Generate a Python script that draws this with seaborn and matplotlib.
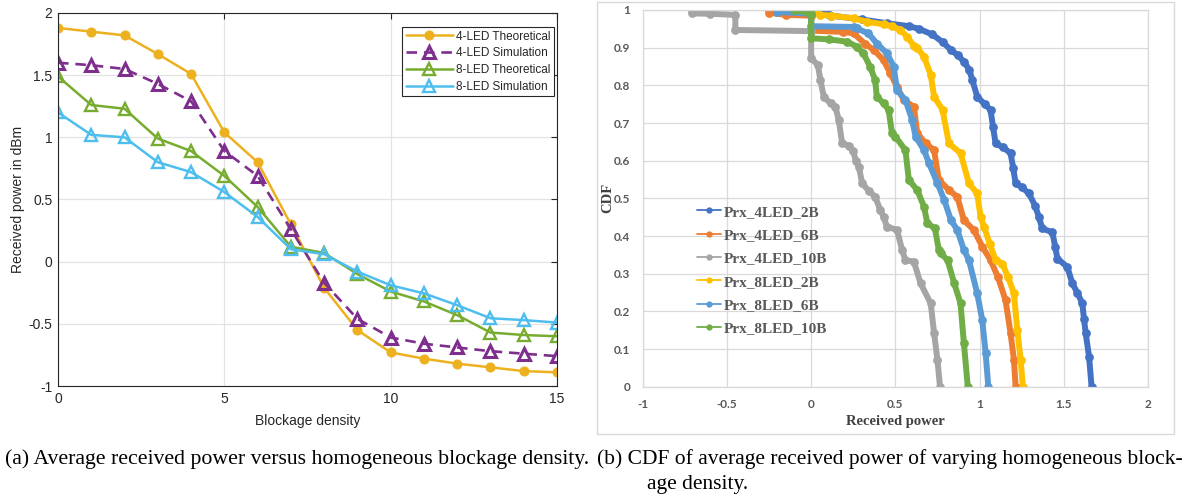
import numpy as np
import pandas as pd
import matplotlib
matplotlib.use("Agg")
import matplotlib.pyplot as plt
from matplotlib.lines import Line2D
from matplotlib.patches import Rectangle
import seaborn as sns

# ---------------- data: (a) received power vs blockage density ----------------
density = [0, 1, 2, 3, 4, 5, 6, 7, 8, 9, 10, 11, 12, 13, 14, 15]
led4_theory = [1.88, 1.85, 1.82, 1.67, 1.51, 1.04, 0.80, 0.30, -0.21, -0.55, -0.73, -0.78, -0.82, -0.85, -0.88, -0.89]
led4_sim = [1.60, 1.58, 1.55, 1.43, 1.29, 0.89, 0.69, 0.26, -0.17, -0.46, -0.61, -0.66, -0.69, -0.72, -0.74, -0.76]
led8_theory = [1.49, 1.26, 1.23, 0.99, 0.89, 0.69, 0.44, 0.12, 0.07, -0.10, -0.24, -0.32, -0.43, -0.57, -0.59, -0.60]
led8_sim = [1.20, 1.02, 1.00, 0.80, 0.72, 0.56, 0.36, 0.10, 0.06, -0.08, -0.19, -0.255, -0.35, -0.455, -0.47, -0.49]
series_a_labels = ["4-LED Theoretical", "4-LED Simulation", "8-LED Theoretical", "8-LED Simulation"]

# ---------------- data: (b) CDF curves (received power, CDF) ----------------
p4_2b = [-0.2, -0.2, 0.1, 0.12, 0.3, 0.45, 0.58, 0.64, 0.72, 0.78, 0.83, 0.87, 0.907, 0.94, 0.957, 0.986, 1.03, 1.065,
         1.08, 1.095, 1.14, 1.184, 1.2, 1.214, 1.25, 1.293, 1.33, 1.352, 1.372, 1.432, 1.45, 1.462, 1.521, 1.551, 1.58,
         1.61, 1.62, 1.63, 1.65, 1.665]
c4_2b = [1.0, 0.995, 0.99, 0.985, 0.975, 0.965, 0.957, 0.95, 0.935, 0.915, 0.894, 0.88, 0.863, 0.84, 0.814, 0.77, 0.75, 0.735,
         0.69, 0.646, 0.635, 0.62, 0.58, 0.54, 0.53, 0.513, 0.48, 0.451, 0.42, 0.41, 0.37, 0.34, 0.318, 0.274, 0.25,
         0.221, 0.18, 0.142, 0.08, 0.0]

p4_6b = [-0.25, -0.25, -0.15, 0.0, 0.0, 0.19, 0.253, 0.32, 0.372, 0.43, 0.47, 0.51, 0.55, 0.61, 0.63, 0.68, 0.73, 0.758,
         0.818, 0.868, 0.907, 0.966, 1.016, 1.065, 1.11, 1.154, 1.184, 1.204, 1.214]
c4_6b = [1.0, 0.993, 0.987, 0.985, 0.945, 0.942, 0.938, 0.91, 0.894, 0.867, 0.832, 0.796, 0.761, 0.743, 0.673, 0.646, 0.628, 0.549,
         0.522, 0.504, 0.442, 0.416, 0.372, 0.336, 0.29, 0.23, 0.142, 0.071, 0.0]

p4_10b = [-0.707, -0.707, -0.6, -0.45, -0.45, 0.0, 0.0, 0.04, 0.055, 0.075, 0.115, 0.144, 0.164, 0.184, 0.223, 0.25,
          0.265, 0.283, 0.303, 0.342, 0.38, 0.41, 0.43, 0.45, 0.51, 0.54, 0.56, 0.61, 0.65, 0.71, 0.73, 0.75, 0.765]
c4_10b = [1.0, 0.991, 0.99, 0.987, 0.947, 0.944, 0.872, 0.854, 0.814, 0.77, 0.752, 0.743, 0.708, 0.646, 0.64, 0.625,
          0.60, 0.584, 0.54, 0.52, 0.504, 0.47, 0.451, 0.425, 0.416, 0.363, 0.336, 0.332, 0.274, 0.221, 0.142, 0.071, 0.0]

p8_2b = [0.0, 0.055, 0.12, 0.253, 0.33, 0.43, 0.48, 0.53, 0.57, 0.61, 0.63, 0.67, 0.71, 0.73, 0.78, 0.818, 0.887, 0.937,
         0.986, 1.006, 1.026, 1.06, 1.095, 1.135, 1.17, 1.204, 1.224, 1.244, 1.257]
c8_2b = [1.0, 0.987, 0.985, 0.978, 0.969, 0.962, 0.957, 0.947, 0.929, 0.905, 0.9, 0.876, 0.828, 0.77, 0.735, 0.646, 0.62, 0.54,
         0.513, 0.451, 0.425, 0.38, 0.336, 0.327, 0.29, 0.248, 0.15, 0.071, 0.0]

p8_6b = [-0.2, -0.2, 0.0, 0.0, 0.253, 0.27, 0.34, 0.39, 0.45, 0.49, 0.51, 0.56, 0.60, 0.62, 0.67, 0.70, 0.75, 0.79, 0.83,
         0.868, 0.907, 0.937, 0.986, 1.016, 1.036, 1.052]
c8_6b = [1.0, 0.995, 0.99, 0.957, 0.955, 0.951, 0.938, 0.911, 0.885, 0.85, 0.787, 0.761, 0.708, 0.664, 0.628, 0.593, 0.54, 0.496,
         0.442, 0.416, 0.363, 0.336, 0.248, 0.177, 0.089, 0.0]

p8_10b = [-0.1, 0.0, 0.0, 0.105, 0.214, 0.27, 0.31, 0.35, 0.38, 0.39, 0.43, 0.46, 0.48, 0.50, 0.56, 0.58, 0.63, 0.67,
          0.69, 0.735, 0.758, 0.77, 0.81, 0.85, 0.887, 0.907, 0.93]
c8_10b = [1.0, 0.99, 0.925, 0.922, 0.916, 0.903, 0.885, 0.85, 0.814, 0.77, 0.752, 0.735, 0.673, 0.664, 0.628, 0.549, 0.522, 0.478,
          0.434, 0.42, 0.363, 0.354, 0.336, 0.274, 0.221, 0.115, 0.0]

cdf_labels = ["Prx_4LED_2B", "Prx_4LED_6B", "Prx_4LED_10B", "Prx_8LED_2B", "Prx_8LED_6B", "Prx_8LED_10B"]

caption_a = "(a) Average received power versus homogeneous blockage density."
caption_b1 = "(b) CDF of average received power of varying homogeneous block-"
caption_b2 = "age density."

# ---------------- styling ----------------
sns.set_theme(style="white")
plt.rcParams["font.family"] = ["Liberation Sans", "DejaVu Sans"]

W, H = 1183, 497
fig = plt.figure(figsize=(W / 100, H / 100), dpi=100)


def fx(px):
    return px / W


def fy(py):
    return 1 - py / H


# ---------- (a) ----------
ax1 = fig.add_axes([fx(58), fy(386), fx(557) - fx(58), fy(13) - fy(386)])
mat_colors = ["#EDB120", "#7E2F8E", "#77AC30", "#4DBEEE"]
a_series = [led4_theory, led4_sim, led8_theory, led8_sim]
for i, (vals, lab, col) in enumerate(zip(a_series, series_a_labels, mat_colors)):
    if i == 0:
        sns.lineplot(x=density, y=vals, ax=ax1, color=col, lw=1.8, marker="o", markersize=6.5,
                     markeredgecolor=col, markerfacecolor=col, label=lab, sort=False, estimator=None)
    elif i == 1:
        sns.lineplot(x=density, y=vals, ax=ax1, color=col, lw=1.9, marker="^", markersize=8.5,
                     markeredgecolor=col, markerfacecolor="none", markeredgewidth=2.2,
                     linestyle=(0, (4, 2.6)), label=lab, sort=False, estimator=None)
    else:
        sns.lineplot(x=density, y=vals, ax=ax1, color=col, lw=1.8, marker="^", markersize=8.5,
                     markeredgecolor=col, markerfacecolor="none", markeredgewidth=1.7,
                     label=lab, sort=False, estimator=None)

ax1.set_xlim(0, 15)
ax1.set_ylim(-1, 2)
ax1.set_xticks([0, 5, 10, 15])
ax1.set_xticklabels(["0", "5", "10", "15"])
ax1.set_yticks([-1, -0.5, 0, 0.5, 1, 1.5, 2])
ax1.set_yticklabels(["-1", "-0.5", "0", "0.5", "1", "1.5", "2"])
ax1.grid(True, color="#E3E3E3", lw=0.9)
ax1.set_axisbelow(True)
for s in ax1.spines.values():
    s.set_color("#262626")
    s.set_linewidth(0.8)
    s.set_visible(True)
ax1.tick_params(direction="in", top=True, right=True, length=4, width=0.8, color="#262626",
                labelsize=10, labelcolor="#262626", pad=4)
ax1.set_xlabel("Blockage density", fontsize=10, color="#262626")
ax1.set_ylabel("Received power in dBm", fontsize=10, color="#262626")
ax1.xaxis.set_label_coords(0.5, (386 - 414) / 373)
ax1.yaxis.set_label_coords((25 - 58) / 499, 0.5)
leg1 = ax1.legend(loc="upper right", bbox_to_anchor=((554 - 58) / 499, (386 - 27) / 373),
                  borderaxespad=0, fontsize=8.5, handlelength=4.0, handletextpad=0.25,
                  labelspacing=0.4, borderpad=0.3, fancybox=False, framealpha=1, numpoints=1)
leg1.get_frame().set_edgecolor("#262626")
leg1.get_frame().set_linewidth(0.8)
for t in leg1.get_texts():
    t.set_color("#262626")

# ---------- (b) ----------
ax2 = fig.add_axes([fx(642.7), fy(386.7), fx(1148) - fx(642.7), fy(10) - fy(386.7)])
xl_colors = ["#4472C4", "#ED7D31", "#A5A5A5", "#FFC000", "#5B9BD5", "#70AD47"]
curves = [(p4_2b, c4_2b), (p4_6b, c4_6b), (p4_10b, c4_10b), (p8_2b, c8_2b), (p8_6b, c8_6b), (p8_10b, c8_10b)]
for (pv, cv), col in zip(curves, xl_colors):
    sns.lineplot(x=pv, y=cv, ax=ax2, color=col, lw=4.3, marker="o", markersize=6.3,
                 markeredgewidth=0, markerfacecolor=col, sort=False, estimator=None,
                 solid_capstyle="round", solid_joinstyle="round")

ax2.set_xlim(-1, 2)
ax2.set_ylim(0, 1)
ax2.set_xticks([-1, -0.5, 0, 0.5, 1, 1.5, 2])
ax2.set_xticklabels(["-1", "-0.5", "0", "0.5", "1", "1.5", "2"])
yt = [0, 0.1, 0.2, 0.3, 0.4, 0.5, 0.6, 0.7, 0.8, 0.9, 1.0]
ax2.set_yticks(yt)
ax2.set_yticklabels(["0", "0.1", "0.2", "0.3", "0.4", "0.5", "0.6", "0.7", "0.8", "0.9", "1"])
ax2.grid(True, color="#D9D9D9", lw=0.9)
ax2.set_axisbelow(True)
for s in ax2.spines.values():
    s.set_color("#D9D9D9")
    s.set_linewidth(0.9)
ax2.tick_params(length=0, labelsize=8.5, labelcolor="#595959", pad=9)
for lab in ax2.get_xticklabels() + ax2.get_yticklabels():
    lab.set_fontweight("bold")
    lab.set_family(["Lato", "DejaVu Sans"])
ax2.set_xlabel("Received power", fontsize=10.5, fontweight="bold", color="#404040",
               family=["Liberation Serif", "DejaVu Serif"])
ax2.set_ylabel("CDF", fontsize=10.5, fontweight="bold", color="#404040",
               family=["Liberation Serif", "DejaVu Serif"])
ax2.xaxis.set_label_coords(0.5, (386.7 - 415) / 376.7)
ax2.yaxis.set_label_coords((614 - 642.7) / 505.3, 0.5)

handles = [Line2D([0], [0], color=c, lw=1.3, marker="o", markersize=3.5) for c in xl_colors]
leg2 = ax2.legend(handles, cdf_labels, loc="upper left",
                  bbox_to_anchor=((697 - 642.7) / 505.3, (386.7 - 205) / 376.7),
                  borderaxespad=0, borderpad=0, frameon=False, handlelength=1.6, handletextpad=0.15,
                  labelspacing=0.63, prop={"family": ["Liberation Serif"], "weight": "bold", "size": 11})
for t in leg2.get_texts():
    t.set_color("#595959")

# outer chart border of (b)
fig.patches.append(Rectangle((fx(597), fy(434)), fx(1174) - fx(597), fy(2) - fy(434),
                             transform=fig.transFigure, fill=False, edgecolor="#D9D9D9", lw=1.0))

# ---------- captions ----------
cap_kw = dict(family=["Liberation Serif", "DejaVu Serif"], color="black", va="center", ha="left")
ta = fig.text(fx(5), fy(459), caption_a, fontsize=13, **cap_kw)
tb1 = fig.text(fx(597), fy(459), caption_b1, fontsize=13, **cap_kw)
tb2 = fig.text(fx(647), fy(484), caption_b2, fontsize=13, **cap_kw)

# fit caption widths to the reference layout
fig.canvas.draw()
r = fig.canvas.get_renderer()
for t, target in [(ta, 584), (tb1, 583)]:
    w = t.get_window_extent(r).width
    t.set_fontsize(13 * target / w)
tb2.set_fontsize(tb1.get_fontsize())

fig.savefig("out.png", dpi=100)
